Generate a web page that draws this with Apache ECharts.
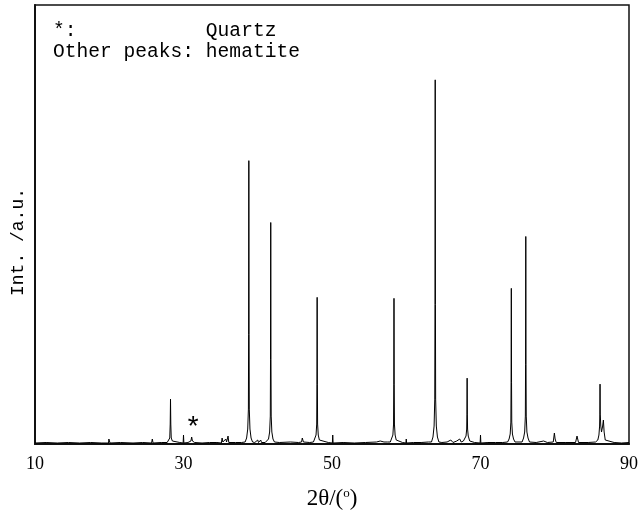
<!DOCTYPE html>
<html><head><meta charset="utf-8">
<script src="https://cdn.jsdelivr.net/npm/echarts@6/dist/echarts.min.js"></script>
<style>html,body{margin:0;padding:0;background:#fff}#c{width:641px;height:517px}</style>
</head><body><div id="c"></div>
<script>
// XRD pattern: 2θ (deg) and intensity (a.u.)
const twoTheta = [
10.0,11.5,13.0,14.5,16.0,17.5,19.0,19.9,19.95,20.05,20.1,21.5,23.2,23.3,23.4,24.5,25.7,25.8,25.9,27.0,27.8,
28.0,28.15,28.21,28.25,28.29,28.35,28.5,28.7,29.5,29.95,30.0,30.05,30.6,31.0,31.1,31.2,31.5,32.5,33.5,34.5,
35.1,35.2,35.3,35.7,35.8,36.0,36.1,37.0,37.8,
38.3,38.5,38.65,38.74,38.77,38.8,38.83,38.86,38.95,39.1,39.3,39.6,40.0,40.1,40.4,40.5,41.0,
41.25,41.45,41.6,41.69,41.72,41.75,41.78,41.81,41.9,42.05,42.25,42.9,43.0,43.1,44.4,45.5,45.9,46.0,46.15,47.0,
47.5,47.7,47.85,47.94,47.97,48.0,48.03,48.06,48.15,48.3,48.5,49.5,50.05,50.1,50.15,51.5,53.0,54.5,56.0,56.5,57.0,57.5,
57.85,58.05,58.2,58.29,58.32,58.35,58.38,58.41,58.5,58.65,58.85,59.5,59.95,60.0,60.05,61.0,62.0,63.0,
63.4,63.6,63.75,63.84,63.87,63.9,63.93,63.96,64.05,64.2,64.4,64.8,65.5,66.0,66.3,66.8,67.2,67.4,67.7,
67.9,68.05,68.14,68.17,68.2,68.23,68.26,68.35,68.55,69.2,69.95,70.0,70.05,71.0,72.0,73.0,
73.65,73.85,74.0,74.09,74.12,74.15,74.18,74.21,74.3,74.45,74.65,
75.6,75.8,75.95,76.04,76.07,76.1,76.13,76.16,76.25,76.4,76.6,77.5,78.5,79.0,79.8,79.95,80.05,80.2,81.5,82.8,83.0,83.2,84.5,85.5,
85.8,85.95,86.04,86.07,86.1,86.13,86.2,86.3,86.45,86.55,86.65,86.8,87.0,88.0,89.0,90.0
];
const intensity = [
1,1.5,1,1.5,1,1.5,1,1,5,5,1,1.5,1,2,1,1.5,1,5,1,1.5,1.5,
3,6,20,45,20,6,3,1.5,1.5,1,9,1,1.5,3,7,3,1.5,1,1.5,1.5,
1,6,2,5,2,8,1.5,1.5,1.5,
2,6,15,35,110,284,110,35,15,6,2,1.5,4,1.5,4,1.5,1.5,
2,5,12,28,85,222,85,28,12,5,2,1.5,3,1.5,2,1.5,2,6,2,1.5,
2,4,9,20,60,147,60,20,9,4,2,1.5,1,9,1,1.5,1,1.5,2,3,2,2,
2,4,9,20,60,146,60,20,9,4,2,1.5,1,5,1,1.5,1.5,2,
2,7,18,45,140,365,140,45,18,7,2,1.5,2,4,1.5,3,5,2,3,
4,8,15,30,66,30,15,8,3,1.5,1,9,1,1.5,1.5,1.5,
2,5,10,22,62,156,62,22,10,5,2,
2,6,12,28,80,208,80,28,12,6,2,1.5,3,1.5,2,11,5,1.5,1.5,1.5,8,1.5,1.5,2,
4,9,18,30,60,30,18,12,18,24,12,4,2,1.5,1,1.5
];
const xTicks = [10, 30, 50, 70, 90];
const quartzMark = [31.3, 21];
const legendLines = ['*:           Quartz', 'Other peaks: hematite'];
const yTitle = 'Int. /a.u.';

const chart = echarts.init(document.getElementById('c'), null, {renderer: 'canvas'});
const data = twoTheta.map((t, i) => [t, intensity[i]]);
chart.setOption({
  animation: false,
  backgroundColor: '#fff',
  grid: {left: 35, right: 10, top: 5, bottom: 73, show: true, borderColor: '#111', borderWidth: 1.5, backgroundColor: 'transparent'},
  xAxis: {
    type: 'value', min: xTicks[0], max: xTicks[xTicks.length - 1], interval: 20,
    axisLine: {show: true, onZero: false, lineStyle: {color: '#111', width: 2}},
    axisTick: {show: false}, splitLine: {show: false},
    axisLabel: {color: '#000', fontFamily: 'Liberation Serif', fontSize: 18, margin: 11},
    name: '{a|2θ/(}{s|o}{a|)}', nameLocation: 'middle', nameGap: 43,
    nameTextStyle: {rich: {
      a: {fontFamily: 'Liberation Serif', fontSize: 23, color: '#000'},
      s: {fontFamily: 'Liberation Serif', fontSize: 13, color: '#000', verticalAlign: 'top', padding: [0, 0, 9, 0]}
    }}
  },
  yAxis: {
    type: 'value', min: 0, max: 440,
    axisLine: {show: true, lineStyle: {color: '#111', width: 2}},
    axisTick: {show: false}, axisLabel: {show: false}, splitLine: {show: false}
  },
  graphic: [
    {type: 'text', left: 53, top: 21, style: {text: legendLines[0], fontFamily: 'Liberation Mono', fontSize: 19.6, fill: '#000'}},
    {type: 'text', left: 53, top: 42, style: {text: legendLines[1], fontFamily: 'Liberation Mono', fontSize: 19.6, fill: '#000'}},
    {type: 'text', x: 18, y: 242, rotation: Math.PI / 2,
     style: {text: yTitle, fontFamily: 'Liberation Mono', fontSize: 18, fill: '#000', align: 'center', verticalAlign: 'middle'}}
  ],
  series: [{
    type: 'line', data: data, showSymbol: false, symbol: 'none',
    lineStyle: {color: '#000', width: 1}, z: 3,
    markPoint: {
      symbol: 'circle', symbolSize: 1, itemStyle: {color: 'rgba(0,0,0,0)'},
      label: {show: true, formatter: '*', color: '#000', fontSize: 28, fontFamily: 'Liberation Mono', offset: [0, 6]},
      data: [{coord: quartzMark, value: '*'}]
    }
  }]
});
</script></body></html>
